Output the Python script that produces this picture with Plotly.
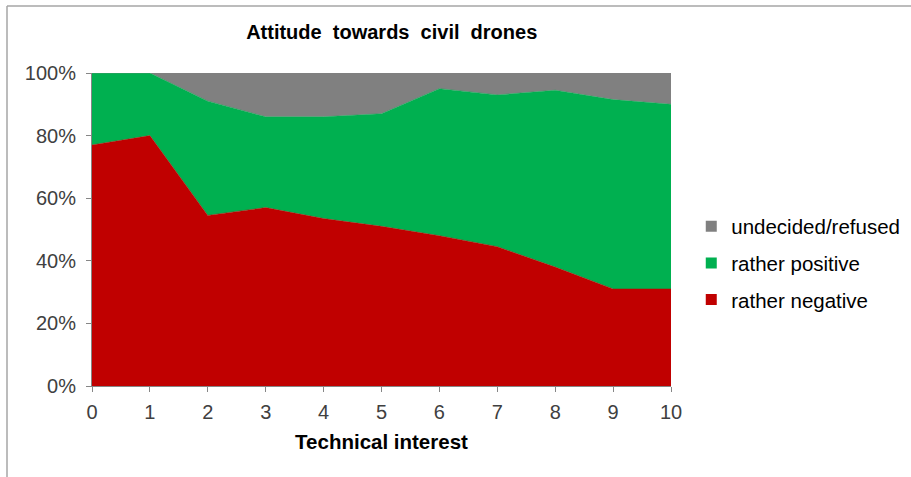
import plotly.graph_objects as go

# Technical interest scale (0 = none, 10 = very high)
interest = [0, 1, 2, 3, 4, 5, 6, 7, 8, 9, 10]

# Share of respondents per attitude, in percent
rather_negative = [77, 80, 54.5, 57, 53.5, 51, 48, 44.5, 38, 31, 31]
rather_positive = [23, 20, 36.5, 29, 32.5, 36, 47, 48.5, 56.5, 60.5, 59]
undecided = [0, 0, 9, 14, 14, 13, 5, 7, 5.5, 8.5, 10]

series = [
    ("rather negative", rather_negative, "#C00000"),
    ("rather positive", rather_positive, "#00B050"),
    ("undecided/refused", undecided, "#808080"),
]

FONT = "Liberation Sans, Arial, sans-serif"

fig = go.Figure()

# stacked areas
for name, vals, col in series:
    fig.add_trace(go.Scatter(
        x=interest, y=vals, name=name, stackgroup="att", mode="lines",
        line=dict(width=0.5, color=col), fillcolor=col, showlegend=False,
        hoverinfo="x+y+name",
    ))

# square legend keys, top to bottom: undecided, positive, negative
for rank, (name, vals, col) in zip([3, 2, 1], series):
    fig.add_trace(go.Scatter(
        x=[None], y=[None], name=name, mode="markers",
        marker=dict(symbol="square", size=11, color=col),
        legendgroup=name, legendrank=rank, showlegend=True,
    ))

axis_col = "#868686"
tick_font = dict(family=FONT, size=20, color="#404040")

fig.update_layout(
    width=911, height=477,
    margin=dict(l=92, r=240, t=73, b=91, autoexpand=False),
    paper_bgcolor="white", plot_bgcolor="white",
    font=dict(family=FONT, color="#000000"),
    title=dict(
        text="<b>Attitude\u00a0 towards\u00a0 civil\u00a0 drones</b>",
        font=dict(family=FONT, size=20, color="#000000"),
        x=0.43, xref="container", xanchor="center",
        y=1 - 32 / 477, yref="container", yanchor="middle",
    ),
    xaxis=dict(
        range=[0, 10], tickmode="array", tickvals=interest,
        ticktext=[str(v) for v in interest],
        showgrid=False, zeroline=False,
        showline=True, linecolor=axis_col, linewidth=1,
        ticks="outside", ticklen=5, tickcolor=axis_col, tickwidth=1,
        tickfont=tick_font, ticklabelstandoff=3,
        title=dict(text="<b>Technical interest</b>",
                   font=dict(family=FONT, size=20.5, color="#000000"),
                   standoff=12),
    ),
    yaxis=dict(
        range=[0, 100], tickmode="linear", tick0=0, dtick=20, ticksuffix="%",
        showgrid=False, zeroline=False,
        showline=True, linecolor=axis_col, linewidth=1,
        ticks="outside", ticklen=5, tickcolor=axis_col, tickwidth=1,
        tickfont=tick_font, ticklabelstandoff=6,
    ),
    legend=dict(
        x=1.035, xanchor="left", y=0.393, yanchor="middle",
        traceorder="grouped", tracegroupgap=7,
        font=dict(family=FONT, size=20.5, color="#000000"),
        bgcolor="rgba(0,0,0,0)", borderwidth=0,
    ),
    showlegend=True,
)

# chart frame (top and left edges)
frame_col = "#a6a6a6"
x_left = (7 - 92) / 579
y_top = (386 - 6) / 313
y_bot = (386 - 477) / 313
fig.add_shape(type="line", xref="paper", yref="paper",
              x0=x_left, x1=(911 - 92) / 579, y0=y_top, y1=y_top,
              line=dict(color=frame_col, width=1.5))
fig.add_shape(type="line", xref="paper", yref="paper",
              x0=x_left, x1=x_left, y0=y_top, y1=y_bot,
              line=dict(color=frame_col, width=1.5))

fig.write_html("out.html")
